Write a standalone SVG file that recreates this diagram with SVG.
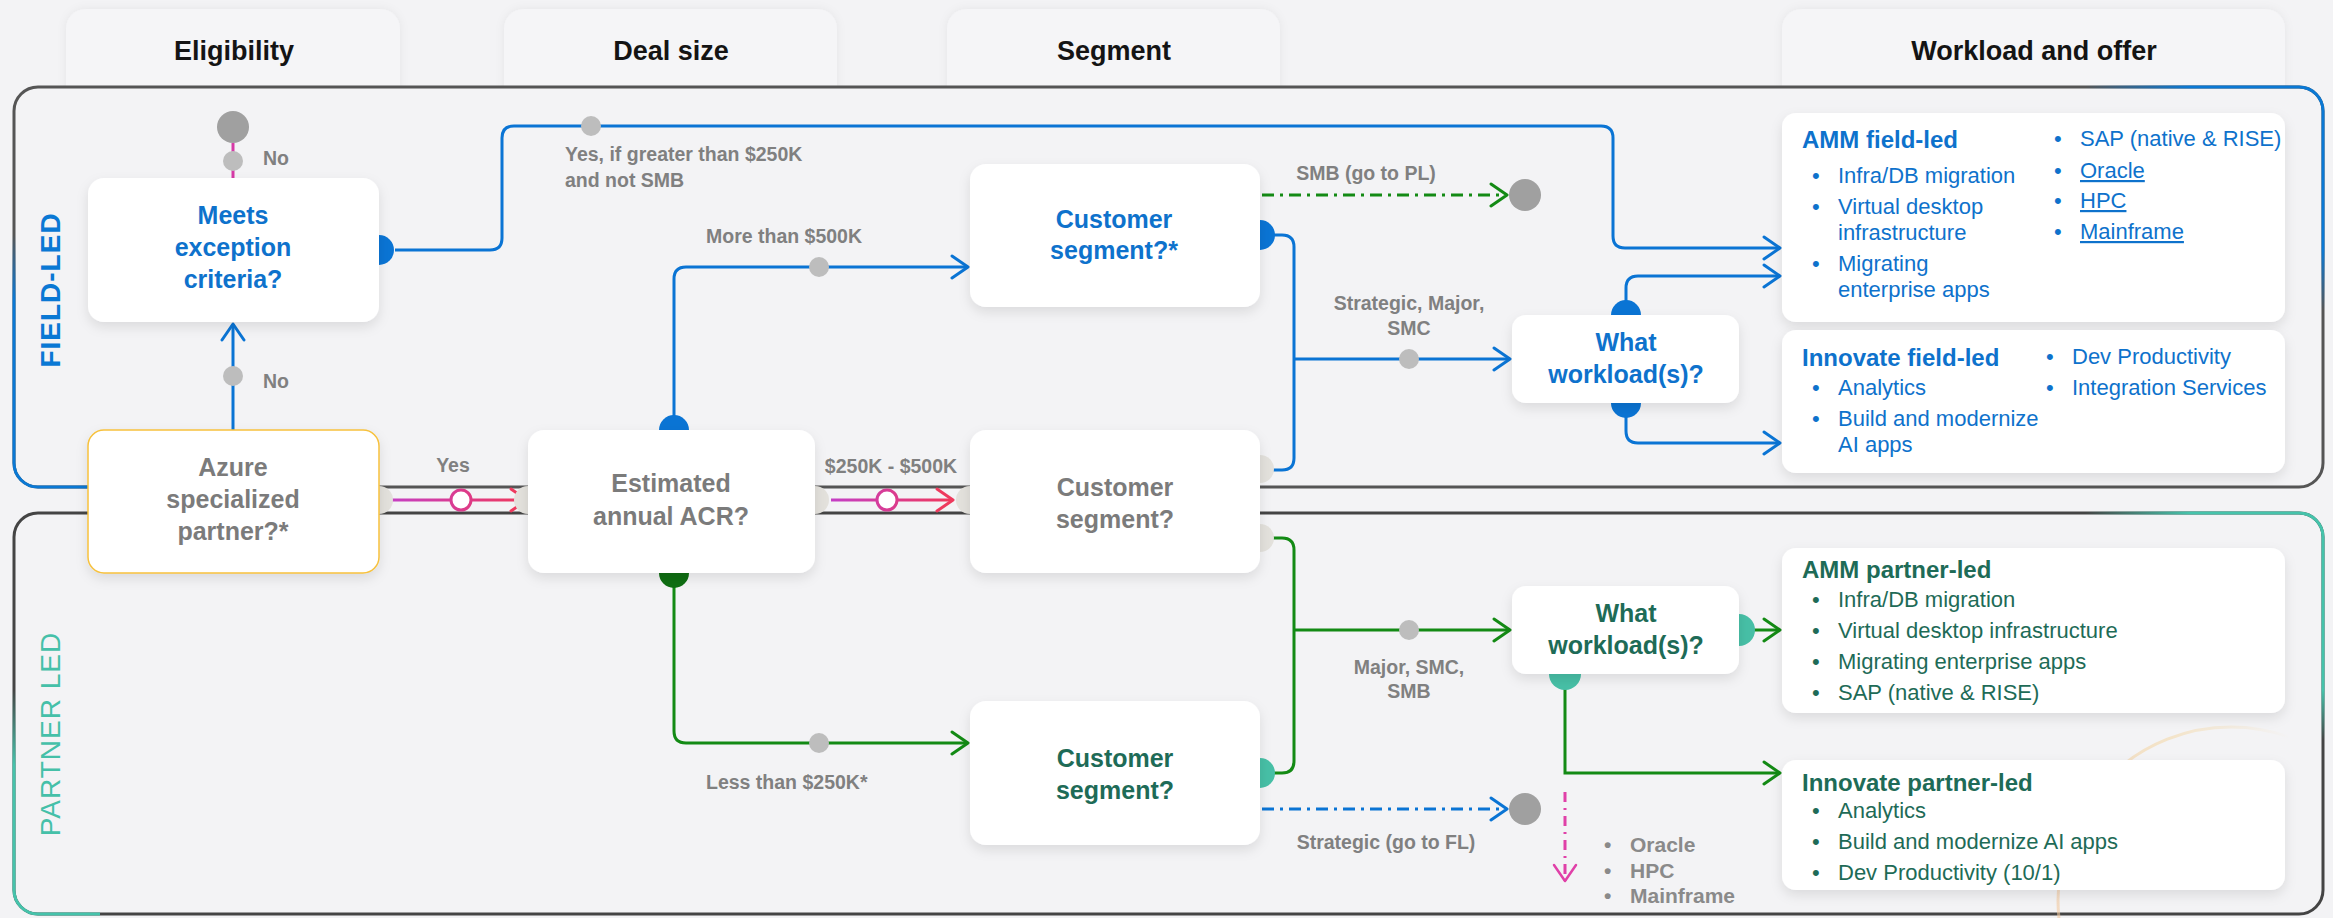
<svg xmlns="http://www.w3.org/2000/svg" width="2333" height="918" viewBox="0 0 2333 918">
<defs>
<style>
text{font-family:"Liberation Sans",Arial,sans-serif}
.hdr{font-size:27px;font-weight:700;fill:#141414;text-anchor:middle}
.node{fill:#fff;filter:url(#sh)}
.tn{font-size:25px;font-weight:700;text-anchor:middle}
.blue{fill:#0e72cc}
.gray{fill:#7b7b7b}
.dg{fill:#1e6b57}
.lbl{font-size:19.5px;font-weight:700;fill:#808080}
.mid{text-anchor:middle}
.it{font-size:22px}
.ttl{font-size:24px;font-weight:700}
.ln{fill:none;stroke-width:3}
.bl{stroke:#0a74d4}
.gr{stroke:#138a14}
.dot{fill:#bdbdbd}
.end{fill:#a0a0a0}
.pg{fill:#e3e1dc}
.pb{fill:#0a74d4}
.pt{fill:#47bfa6}
.pd{fill:#0f6e12}
.tab{fill:#f5f5f7;filter:url(#tsh)}
</style>
<filter id="sh" x="-10%" y="-10%" width="120%" height="135%"><feDropShadow dx="0" dy="5" stdDeviation="6" flood-color="#000" flood-opacity="0.10"/></filter>
<filter id="tsh" x="-10%" y="-20%" width="120%" height="150%"><feDropShadow dx="0" dy="0" stdDeviation="5" flood-color="#000" flood-opacity="0.06"/></filter>
<marker id="aB" viewBox="0 0 20 26" refX="18" refY="13" markerWidth="20" markerHeight="26" markerUnits="userSpaceOnUse" orient="auto"><path d="M2,2 L18,13 L2,24" fill="none" stroke="#0a74d4" stroke-width="3" stroke-linecap="round" stroke-linejoin="round"/></marker>
<marker id="aG" viewBox="0 0 20 26" refX="18" refY="13" markerWidth="20" markerHeight="26" markerUnits="userSpaceOnUse" orient="auto"><path d="M2,2 L18,13 L2,24" fill="none" stroke="#138a14" stroke-width="3" stroke-linecap="round" stroke-linejoin="round"/></marker>
<marker id="aR" viewBox="0 0 20 26" refX="18" refY="13" markerWidth="20" markerHeight="26" markerUnits="userSpaceOnUse" orient="auto"><path d="M2,2 L18,13 L2,24" fill="none" stroke="#ee3a5e" stroke-width="3" stroke-linecap="round" stroke-linejoin="round"/></marker>
<marker id="aM" viewBox="0 0 20 26" refX="18" refY="13" markerWidth="20" markerHeight="26" markerUnits="userSpaceOnUse" orient="auto"><path d="M2,2 L18,13 L2,24" fill="none" stroke="#e040a8" stroke-width="2.5" stroke-linecap="round" stroke-linejoin="round"/></marker>
<linearGradient id="gE" gradientUnits="userSpaceOnUse" x1="387" y1="0" x2="527" y2="0"><stop offset="0" stop-color="#c43fc6"/><stop offset="1" stop-color="#f0385a"/></linearGradient>
<linearGradient id="gF" gradientUnits="userSpaceOnUse" x1="831" y1="0" x2="953" y2="0"><stop offset="0" stop-color="#c43fc6"/><stop offset="1" stop-color="#f0385a"/></linearGradient>
<linearGradient id="gFL" gradientUnits="userSpaceOnUse" x1="0" y1="235" x2="0" y2="300"><stop offset="0" stop-color="#0a78d4" stop-opacity="0"/><stop offset="1" stop-color="#0a78d4"/></linearGradient>
<linearGradient id="gFT" gradientUnits="userSpaceOnUse" x1="2085" y1="0" x2="2190" y2="0"><stop offset="0" stop-color="#0a78d4" stop-opacity="0"/><stop offset="1" stop-color="#0a78d4"/></linearGradient>
<linearGradient id="gFR" gradientUnits="userSpaceOnUse" x1="0" y1="250" x2="0" y2="310"><stop offset="0" stop-color="#0a78d4"/><stop offset="1" stop-color="#0a78d4" stop-opacity="0"/></linearGradient>
<linearGradient id="gPL" gradientUnits="userSpaceOnUse" x1="0" y1="690" x2="0" y2="765"><stop offset="0" stop-color="#45c3ab" stop-opacity="0"/><stop offset="1" stop-color="#45c3ab"/></linearGradient>
<linearGradient id="gPT" gradientUnits="userSpaceOnUse" x1="2085" y1="0" x2="2190" y2="0"><stop offset="0" stop-color="#45c3ab" stop-opacity="0"/><stop offset="1" stop-color="#45c3ab"/></linearGradient>
<linearGradient id="gPR" gradientUnits="userSpaceOnUse" x1="0" y1="690" x2="0" y2="740"><stop offset="0" stop-color="#45c3ab"/><stop offset="1" stop-color="#45c3ab" stop-opacity="0"/></linearGradient>
<linearGradient id="gArc" gradientUnits="userSpaceOnUse" x1="2050" y1="0" x2="2290" y2="0"><stop offset="0" stop-color="#f2c9a0" stop-opacity="0.6"/><stop offset="0.5" stop-color="#f3d49c" stop-opacity="0.5"/><stop offset="1" stop-color="#f3d49c" stop-opacity="0"/></linearGradient>
</defs>

<rect x="0" y="0" width="2333" height="918" fill="#f3f3f5"/>

<g id="tabs">
<rect class="tab" x="66" y="9" width="334" height="110" rx="20"/>
<rect class="tab" x="504" y="9" width="333" height="110" rx="20"/>
<rect class="tab" x="947" y="9" width="333" height="110" rx="20"/>
<rect class="tab" x="1782" y="9" width="503" height="110" rx="20"/>
<text class="hdr" x="234" y="60">Eligibility</text>
<text class="hdr" x="671" y="60">Deal size</text>
<text class="hdr" x="1114" y="60">Segment</text>
<text class="hdr" x="2034" y="60">Workload and offer</text>
</g>

<g id="lanes">
<rect x="14" y="87" width="2309" height="400" rx="24" fill="#f3f3f5" stroke="#555" stroke-width="3"/>
<rect x="14" y="513" width="2309" height="401" rx="24" fill="#f3f3f5" stroke="#444" stroke-width="3"/>
<path d="M14,230 V463 A24,24 0 0 0 38,487 H100" fill="none" stroke="url(#gFL)" stroke-width="3"/>
<path d="M2080,87 H2299" fill="none" stroke="url(#gFT)" stroke-width="3"/>
<path d="M2299,87 A24,24 0 0 1 2323,111 V330" fill="none" stroke="url(#gFR)" stroke-width="3"/>
<path d="M14,680 V890 A24,24 0 0 0 38,914 H100" fill="none" stroke="url(#gPL)" stroke-width="3"/>
<path d="M2080,513 H2299" fill="none" stroke="url(#gPT)" stroke-width="3"/>
<path d="M2299,513 A24,24 0 0 1 2323,537 V760" fill="none" stroke="url(#gPR)" stroke-width="3"/>
<circle cx="2231" cy="900" r="173" fill="none" stroke="url(#gArc)" stroke-width="3"/>
<text x="60" y="290" transform="rotate(-90 60 290)" text-anchor="middle" font-size="28" font-weight="700" fill="#0a78d4" letter-spacing="1">FIELD-LED</text>
<text x="60" y="734" transform="rotate(-90 60 734)" text-anchor="middle" font-size="28" fill="#45c0a8" letter-spacing="1">PARTNER LED</text>
</g>

<g id="connectors">
<path class="ln bl" d="M233,430 V324" marker-end="url(#aB)"/>
<path class="ln" stroke="#d63aa6" d="M233,178 V143"/>
<path class="ln bl" d="M395,250 H490 Q502,250 502,238 V138 Q502,126 514,126 H1601 Q1613,126 1613,138 V236 Q1613,248 1625,248 H1780" marker-end="url(#aB)"/>
<path class="ln bl" d="M674,420 V279 Q674,267 686,267 H968" marker-end="url(#aB)"/>
<path class="ln" stroke="url(#gE)" d="M387,500 H527" marker-end="url(#aR)"/>
<path class="ln" stroke="url(#gF)" d="M831,500 H953" marker-end="url(#aR)"/>
<path class="ln bl" d="M1272,235 H1282 Q1294,235 1294,247 V458 Q1294,470 1282,470 H1270"/>
<path class="ln bl" d="M1294,359 H1510" marker-end="url(#aB)"/>
<path class="ln gr" stroke-dasharray="12 6 3 6" d="M1262,195 H1507" marker-end="url(#aG)"/>
<path class="ln bl" d="M1626,305 V288 Q1626,276 1638,276 H1780" marker-end="url(#aB)"/>
<path class="ln bl" d="M1626,412 V431 Q1626,443 1638,443 H1780" marker-end="url(#aB)"/>
<path class="ln gr" d="M674,583 V731 Q674,743 686,743 H968" marker-end="url(#aG)"/>
<path class="ln gr" d="M1270,538 H1282 Q1294,538 1294,550 V761 Q1294,773 1282,773 H1272"/>
<path class="ln gr" d="M1294,630 H1510" marker-end="url(#aG)"/>
<path class="ln bl" stroke-dasharray="12 6 3 6" d="M1262,809 H1507" marker-end="url(#aB)"/>
<path class="ln gr" d="M1750,630 H1780" marker-end="url(#aG)"/>
<path class="ln gr" d="M1565,685 V773 H1780" marker-end="url(#aG)"/>
<path class="ln" stroke="#e040a8" stroke-width="2.5" stroke-dasharray="10 6 2 6" d="M1565,792 V881" marker-end="url(#aM)"/>
<circle cx="461" cy="500" r="10" fill="#fff" stroke="url(#gE)" stroke-width="3"/>
<circle cx="887" cy="500" r="10" fill="#fff" stroke="url(#gF)" stroke-width="3"/>
<circle class="end" cx="233" cy="127" r="16"/>
<circle class="end" cx="1525" cy="195" r="16"/>
<circle class="end" cx="1525" cy="809" r="16"/>
<circle class="dot" cx="233" cy="161" r="10"/>
<circle class="dot" cx="233" cy="376" r="10"/>
<circle class="dot" cx="591" cy="126" r="10"/>
<circle class="dot" cx="819" cy="267" r="10"/>
<circle class="dot" cx="1409" cy="359" r="10"/>
<circle class="dot" cx="819" cy="743" r="10"/>
<circle class="dot" cx="1409" cy="630" r="10"/>
<circle class="pb" cx="379" cy="250" r="15"/>
<circle class="pb" cx="674" cy="430" r="15"/>
<circle class="pd" cx="674" cy="573" r="15"/>
<circle class="pg" cx="379" cy="500" r="14"/>
<circle class="pg" cx="528" cy="500" r="14"/>
<circle class="pg" cx="815" cy="500" r="14"/>
<circle class="pg" cx="970" cy="500" r="14"/>
<circle class="pg" cx="1260" cy="469" r="14"/>
<circle class="pg" cx="1260" cy="538" r="14"/>
<circle class="pb" cx="1260" cy="235" r="15"/>
<circle class="pt" cx="1260" cy="773" r="15"/>
<circle class="pb" cx="1626" cy="315" r="15"/>
<circle class="pb" cx="1626" cy="403" r="15"/>
<circle class="pt" cx="1739" cy="630" r="16"/>
<circle class="pt" cx="1565" cy="674" r="16"/>
<text class="lbl" x="263" y="165">No</text>
<text class="lbl" x="263" y="388">No</text>
<text class="lbl" x="565" y="161">Yes, if greater than $250K</text>
<text class="lbl" x="565" y="187">and not SMB</text>
<text class="lbl" x="706" y="243">More than $500K</text>
<text class="lbl mid" x="453" y="472">Yes</text>
<text class="lbl mid" x="891" y="473">$250K - $500K</text>
<text class="lbl mid" x="1366" y="180">SMB (go to PL)</text>
<text class="lbl mid" x="1409" y="310">Strategic, Major,</text>
<text class="lbl mid" x="1409" y="335">SMC</text>
<text class="lbl" x="706" y="789">Less than $250K*</text>
<text class="lbl mid" x="1409" y="674">Major, SMC,</text>
<text class="lbl mid" x="1409" y="698">SMB</text>
<text class="lbl mid" x="1386" y="849">Strategic (go to FL)</text>
</g>

<g id="node-meets">
<rect class="node" x="88" y="178" width="291" height="144" rx="16"/>
<text class="tn blue" x="233" y="224">Meets</text>
<text class="tn blue" x="233" y="256">exception</text>
<text class="tn blue" x="233" y="288">criteria?</text>
</g>
<g id="node-azure">
<rect class="node" x="88" y="430" width="291" height="143" rx="16" stroke="#f7c13c" stroke-width="1.5"/>
<text class="tn gray" x="233" y="476">Azure</text>
<text class="tn gray" x="233" y="508">specialized</text>
<text class="tn gray" x="233" y="540">partner?*</text>
</g>
<g id="node-acr">
<rect class="node" x="528" y="430" width="287" height="143" rx="16"/>
<text class="tn gray" x="671" y="492">Estimated</text>
<text class="tn gray" x="671" y="525">annual ACR?</text>
</g>
<g id="node-seg-field">
<rect class="node" x="970" y="164" width="290" height="143" rx="16"/>
<text class="tn blue" x="1114" y="228">Customer</text>
<text class="tn blue" x="1114" y="259">segment?*</text>
</g>
<g id="node-seg-mid">
<rect class="node" x="970" y="430" width="290" height="143" rx="16"/>
<text class="tn gray" x="1115" y="496">Customer</text>
<text class="tn gray" x="1115" y="528">segment?</text>
</g>
<g id="node-seg-partner">
<rect class="node" x="970" y="701" width="290" height="144" rx="16"/>
<text class="tn dg" x="1115" y="767">Customer</text>
<text class="tn dg" x="1115" y="799">segment?</text>
</g>
<g id="node-workload-field">
<rect class="node" x="1512" y="315" width="227" height="88" rx="14"/>
<text class="tn blue" x="1626" y="351">What</text>
<text class="tn blue" x="1626" y="383">workload(s)?</text>
</g>
<g id="node-workload-partner">
<rect class="node" x="1512" y="586" width="227" height="88" rx="14"/>
<text class="tn dg" x="1626" y="622">What</text>
<text class="tn dg" x="1626" y="654">workload(s)?</text>
</g>

<g id="node-amm-field">
<rect class="node" x="1782" y="113" width="503" height="209" rx="14"/>
<g class="blue">
<text class="ttl" x="1802" y="148">AMM field-led</text>
<text class="it" x="1812" y="183">•</text><text class="it" x="1838" y="183">Infra/DB migration</text>
<text class="it" x="1812" y="214">•</text><text class="it" x="1838" y="214">Virtual desktop</text>
<text class="it" x="1838" y="240">infrastructure</text>
<text class="it" x="1812" y="271">•</text><text class="it" x="1838" y="271">Migrating</text>
<text class="it" x="1838" y="297">enterprise apps</text>
<text class="it" x="2054" y="146">•</text><text class="it" x="2080" y="146">SAP (native &amp; RISE)</text>
<text class="it" x="2054" y="178">•</text><text class="it" x="2080" y="178" text-decoration="underline">Oracle</text>
<text class="it" x="2054" y="208">•</text><text class="it" x="2080" y="208" text-decoration="underline">HPC</text>
<text class="it" x="2054" y="239">•</text><text class="it" x="2080" y="239" text-decoration="underline">Mainframe</text>
</g>
</g>
<g id="node-innovate-field">
<rect class="node" x="1782" y="330" width="503" height="143" rx="14"/>
<g class="blue">
<text class="ttl" x="1802" y="366">Innovate field-led</text>
<text class="it" x="1812" y="395">•</text><text class="it" x="1838" y="395">Analytics</text>
<text class="it" x="1812" y="426">•</text><text class="it" x="1838" y="426">Build and modernize</text>
<text class="it" x="1838" y="452">AI apps</text>
<text class="it" x="2046" y="364">•</text><text class="it" x="2072" y="364">Dev Productivity</text>
<text class="it" x="2046" y="395">•</text><text class="it" x="2072" y="395">Integration Services</text>
</g>
</g>
<g id="node-amm-partner">
<rect class="node" x="1782" y="548" width="503" height="165" rx="14"/>
<g class="dg">
<text class="ttl" x="1802" y="578">AMM partner-led</text>
<text class="it" x="1812" y="607">•</text><text class="it" x="1838" y="607">Infra/DB migration</text>
<text class="it" x="1812" y="638">•</text><text class="it" x="1838" y="638">Virtual desktop infrastructure</text>
<text class="it" x="1812" y="669">•</text><text class="it" x="1838" y="669">Migrating enterprise apps</text>
<text class="it" x="1812" y="700">•</text><text class="it" x="1838" y="700">SAP (native &amp; RISE)</text>
</g>
</g>
<g id="node-innovate-partner">
<rect class="node" x="1782" y="760" width="503" height="130" rx="14"/>
<g class="dg">
<text class="ttl" x="1802" y="791">Innovate partner-led</text>
<text class="it" x="1812" y="818">•</text><text class="it" x="1838" y="818">Analytics</text>
<text class="it" x="1812" y="849">•</text><text class="it" x="1838" y="849">Build and modernize AI apps</text>
<text class="it" x="1812" y="880">•</text><text class="it" x="1838" y="880">Dev Productivity (10/1)</text>
</g>
</g>
<g id="node-other-workloads" font-size="21" font-weight="700" fill="#8a8a8a">
<text x="1604" y="852">•</text><text x="1630" y="852">Oracle</text>
<text x="1604" y="878">•</text><text x="1630" y="878">HPC</text>
<text x="1604" y="903">•</text><text x="1630" y="903">Mainframe</text>
</g>
</svg>
